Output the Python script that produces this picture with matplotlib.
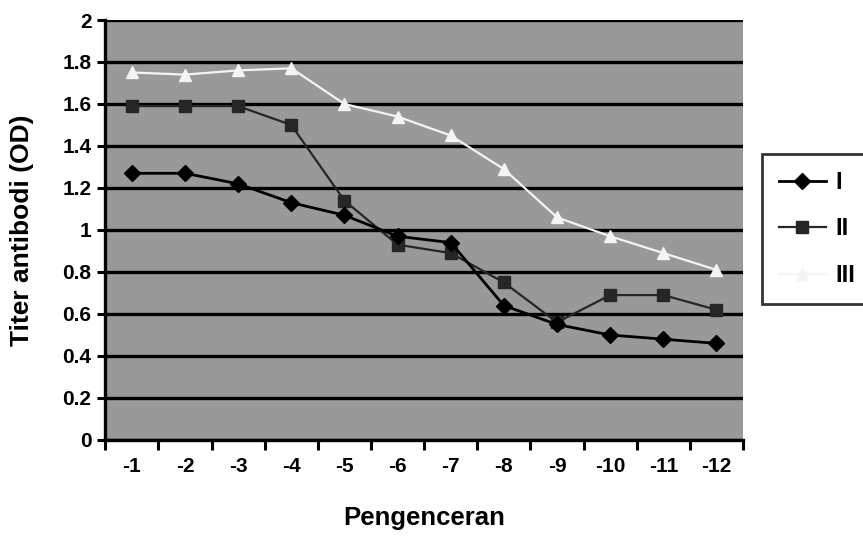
import numpy as np
import matplotlib
matplotlib.use("Agg")
import matplotlib.pyplot as plt
from matplotlib.ticker import FixedLocator

plt.rcParams['font.family'] = ['Liberation Sans', 'DejaVu Sans']
plt.rcParams['font.weight'] = 'bold'

# dilution steps and OD readings per group
pengenceran = ['-1', '-2', '-3', '-4', '-5', '-6', '-7', '-8', '-9', '-10', '-11', '-12']
seri_1 = [1.27, 1.27, 1.22, 1.13, 1.07, 0.97, 0.94, 0.64, 0.55, 0.50, 0.48, 0.46]
seri_2 = [1.59, 1.59, 1.59, 1.50, 1.14, 0.93, 0.89, 0.75, 0.56, 0.69, 0.69, 0.62]
seri_3 = [1.75, 1.74, 1.76, 1.77, 1.60, 1.54, 1.45, 1.29, 1.06, 0.97, 0.89, 0.81]
nama_seri = ['I', 'II', 'III']
y_ticks = [0, 0.2, 0.4, 0.6, 0.8, 1.0, 1.2, 1.4, 1.6, 1.8, 2.0]
y_labels = ['0', '0.2', '0.4', '0.6', '0.8', '1', '1.2', '1.4', '1.6', '1.8', '2']

fig = plt.figure(figsize=(8.63, 5.51), dpi=100)
ax = fig.add_axes([0.122, 0.2015, 0.739, 0.7622])
ax.set_facecolor('#999999')

x = np.arange(len(pengenceran))
ax.plot(x, seri_1, color='black', lw=2, marker='D', ms=8, label=nama_seri[0], zorder=4)
ax.plot(x, seri_2, color='#262626', lw=1.6, marker='s', ms=9, label=nama_seri[1], zorder=3)
ax.plot(x, seri_3, color='#f4f4f4', lw=1.6, marker='^', ms=9, label=nama_seri[2], zorder=3)

ax.set_xlim(-0.5, len(pengenceran) - 0.5)
ax.set_ylim(0, 2)
ax.set_yticks(y_ticks)
ax.set_yticklabels(y_labels)
ax.grid(axis='y', color='black', lw=2.4, zorder=1)
ax.set_axisbelow(True)

ax.set_xticks(x)
ax.set_xticklabels(pengenceran)
ax.xaxis.set_minor_locator(FixedLocator(np.arange(-0.5, len(pengenceran), 1.0)))
ax.tick_params(axis='x', which='major', length=0, pad=12, labelsize=15)
ax.tick_params(axis='x', which='minor', length=7, width=2.2, direction='out')
ax.tick_params(axis='y', length=6, width=2.2, direction='out', labelsize=15, pad=4)

for s in ['top', 'right']:
    ax.spines[s].set_visible(False)
ax.spines['left'].set_linewidth(2.4)
ax.spines['bottom'].set_linewidth(2.4)

ax.set_xlabel('Pengenceran', fontsize=18.5, fontweight='bold', labelpad=22)
ax.set_ylabel('Titer antibodi (OD)', fontsize=19, fontweight='bold', labelpad=20)

leg = fig.legend(loc='upper left', bbox_to_anchor=(0.883, 0.72), fontsize=17,
                 frameon=True, fancybox=False, edgecolor='black', handlelength=2.0,
                 labelspacing=1.0, borderpad=0.7, handletextpad=0.4, borderaxespad=0)
leg.get_frame().set_linewidth(2)

fig.savefig('out.png', dpi=100)
